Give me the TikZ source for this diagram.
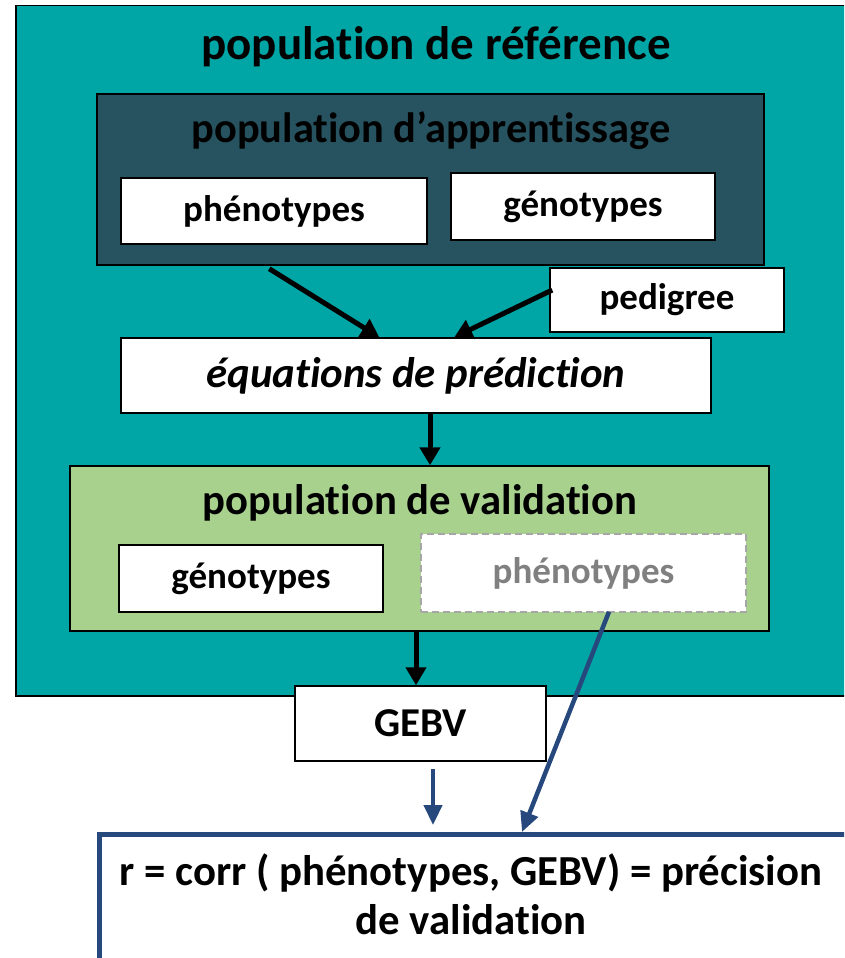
\documentclass[tikz,border=0pt]{standalone}
\usepackage{fontspec}
\setmainfont[Ligatures={NoCommon,NoContextual}]{Carlito}
\usetikzlibrary{positioning,arrows.meta,calc}

\definecolor{refteal}{RGB}{0,165,166}
\definecolor{apprdark}{RGB}{38,83,95}
\definecolor{validgreen}{RGB}{169,209,142}
\definecolor{corrblue}{RGB}{38,72,125}
\definecolor{phengray}{RGB}{128,128,128}

\tikzset{
  whitebox/.style={draw=black, line width=1.5pt, fill=white, inner sep=0pt,
    font=\bfseries\fontsize{37}{42}\selectfont},
  titletext/.style={font=\bfseries\fontsize{42.7}{48}\selectfont, inner sep=0pt},
  blkarrow/.style={-{Triangle[length=18pt,width=20pt]}, line width=5pt},
  bluarrow/.style={-{Triangle[length=20pt,width=18pt]}, draw=corrblue, line width=4.5pt},
}

\begin{document}
\begin{tikzpicture}[x=1pt,y=-1pt]
\useasboundingbox (0,0) rectangle (844,958);
\clip (0,0) rectangle (844,958);
% population de reference
\node[draw=black, line width=1.5pt, fill=refteal, minimum width=840pt,
  minimum height=690pt, anchor=north west] (ref) at (15,5) {};
\node[titletext, font=\bfseries\fontsize{47}{52}\selectfont] (reftitle) at (436,47) {population de référence};
% population d'apprentissage
\node[draw=black, line width=1.5pt, fill=apprdark, minimum width=667pt,
  minimum height=171pt] (appr) at (430.5,179.5) {};
\node[titletext, font=\bfseries\fontsize{42.4}{48}\selectfont] (apprtitle) at (431,131) {population d’apprentissage};
\node[whitebox, minimum width=306pt, minimum height=66pt] (phenA) at (274,211) {phénotypes};
\node[whitebox, minimum width=264pt, minimum height=67pt] (genA) at (583,206.5) {génotypes};
\node[whitebox, minimum width=234pt, minimum height=64pt] (ped) at (667,300) {pedigree};
% equations
\node[whitebox, minimum width=590pt, minimum height=75pt,
  font=\bfseries\itshape\fontsize{42.8}{48}\selectfont] (eq) at (416,375.5) {équations de prédiction};
% population de validation
\node[draw=black, line width=1.5pt, fill=validgreen, minimum width=699pt,
  minimum height=165pt] (valid) at (419.5,548.5) {};
\node[titletext] (validtitle) at (420,503) {population de validation};
\node[whitebox, minimum width=264pt, minimum height=67pt] (genV) at (251,578.5) {génotypes};
\node[whitebox, draw=phengray!70, dashed, dash pattern=on 7pt off 4pt, text=phengray,
  minimum width=325pt, minimum height=78pt] (phenV) at (583.5,573) {\raisebox{4pt}{phénotypes}};
% GEBV et correlation
\node[whitebox, font=\bfseries\fontsize{41}{46}\selectfont, minimum width=251pt,
  minimum height=75pt] (gebv) at (420.5,723.5) {GEBV};
\node[draw=corrblue, line width=4.5pt, fill=white, minimum width=753pt,
  minimum height=168pt, anchor=north west] (corr) at (97,832) {};
\node[titletext, align=center, font=\bfseries\fontsize{42.8}{49}\selectfont]
  (corrtext) at (471,894) {r = corr ( phénotypes, GEBV) = précision\\de validation};

% fleches
\draw[blkarrow] ($(appr.south west)+(173,3)$) -- ($(eq.north west)+(259,0)$);
\draw[blkarrow] ($(ped.west)+(3,-10)$) -- ($(eq.north west)+(334,0)$);
\draw[blkarrow] ([xshift=14pt]eq.south) -- ([xshift=10.5pt]valid.north);
\draw[blkarrow] ([xshift=-3.5pt]valid.south) -- ([xshift=-4.5pt]gebv.north);
\draw[bluarrow] ([xshift=12.5pt,yshift=-7pt]gebv.south) -- ($(corr.north west)+(336,-7)$);
\draw[bluarrow] ($(phenV.south)+(25.5,-1)$) -- ($(corr.north west)+(425,0)$);
\end{tikzpicture}
\end{document}
